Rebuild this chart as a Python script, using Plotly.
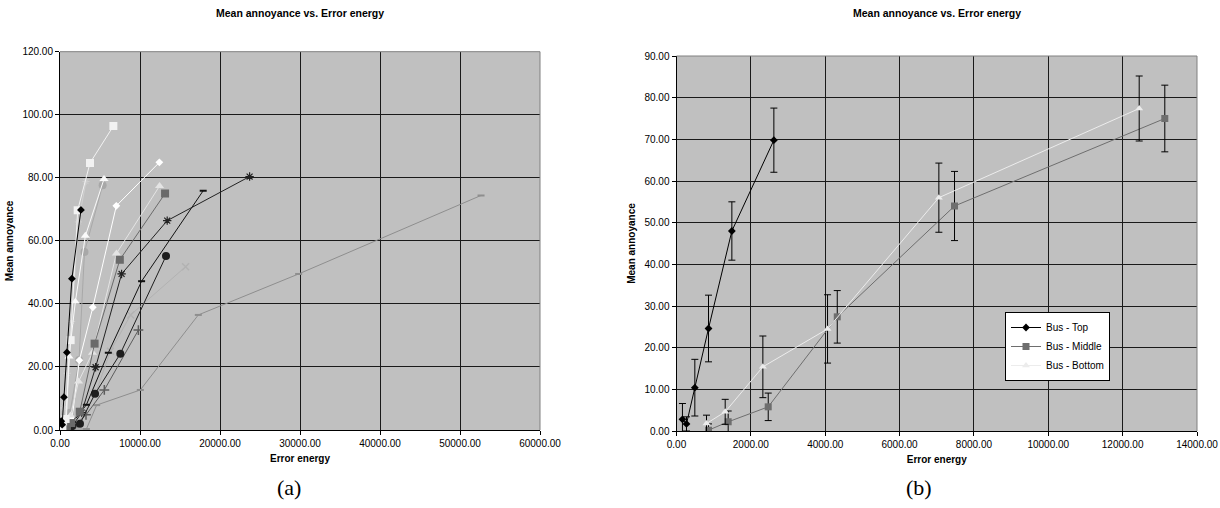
import plotly.graph_objects as go

# ---------------- Chart (b) data: Bus clips with error bars ----------------
top_x = [160, 269, 493, 861, 1489, 2619]
top_y = [2.8, 1.7, 10.4, 24.6, 48.0, 69.8]
top_err = [3.8, 1.7, 6.8, 8.0, 7.0, 7.7]

mid_x = [861, 1390, 2467, 4324, 7478, 13134]
mid_y = [0.2, 2.2, 5.8, 27.4, 54.0, 75.0]
mid_err = [1.5, 2.6, 3.3, 6.3, 8.3, 8.0]

bot_x = [807, 1310, 2323, 4063, 7057, 12445]
bot_y = [1.8, 4.6, 15.4, 24.5, 56.0, 77.4]
bot_err = [2.0, 3.0, 7.4, 8.2, 8.3, 7.8]

# ---------------- Chart (a) data: other clips ----------------
wsq_x = [300, 700, 1330, 2210, 3750, 6670]
wsq_y = [0.3, 3.5, 28.5, 69.7, 84.7, 96.4]

bdash_x = [700, 1600, 3300, 6040, 10200, 17900]
bdash_y = [0.5, 2.5, 8.0, 24.5, 47.2, 75.9]

bstar_x = [600, 1600, 2700, 4450, 7700, 13400, 23700]
bstar_y = [0.5, 1.5, 5.5, 19.9, 49.5, 66.4, 80.4]

bcirc_x = [900, 1500, 2500, 4380, 7540, 13250]
bcirc_y = [0.5, 1.3, 2.0, 11.5, 24.2, 55.2]

gplus_x = [800, 1700, 3250, 5540, 9800]
gplus_y = [0.2, 1.0, 4.8, 12.7, 31.7]

glong_x = [1500, 3300, 4580, 10040, 17290, 29830, 52630]
glong_y = [0.3, 0.3, 7.9, 12.7, 36.5, 49.5, 74.4]

lgx_x = [1000, 2500, 4500, 6300, 8830, 15700]
lgx_y = [0.3, 3.0, 12.0, 25.0, 36.5, 51.8]

lgcirc_x = [300, 650, 1250, 2380, 3060, 5330]
lgcirc_y = [0.5, 1.3, 5.5, 22.2, 56.5, 77.6]

wtri_x = [400, 800, 1125, 1920, 3170, 5500]
wtri_y = [0.8, 3.5, 23.3, 40.7, 61.6, 79.6]

wdia_x = [500, 1000, 1500, 2420, 4100, 7040, 12420]
wdia_y = [0.5, 2.0, 3.5, 22.1, 38.9, 71.1, 84.9]

lstar_x = [200, 500, 900, 1450, 2300, 3250]
lstar_y = [2.0, 7.0, 18.0, 34.4, 66.0, 78.8]

x_ticks_a = [0, 10000, 20000, 30000, 40000, 50000, 60000]
y_ticks_a = [0, 20, 40, 60, 80, 100, 120]
x_ticks_b = [0, 2000, 4000, 6000, 8000, 10000, 12000, 14000]
y_ticks_b = [0, 10, 20, 30, 40, 50, 60, 70, 80, 90]

TITLE = "Mean annoyance vs. Error energy"
FONT = "Liberation Sans"

fig = go.Figure()


def add_a(x, y, color, symbol, size, mline=None, mlw=0):
    marker = dict(symbol=symbol, size=size, color=color)
    if mline is not None:
        marker["line"] = dict(color=mline, width=mlw)
    fig.add_trace(go.Scatter(x=x, y=y, mode="lines+markers", xaxis="x", yaxis="y",
                             line=dict(color=color, width=1), marker=marker,
                             showlegend=False, hoverinfo="skip"))


# chart (a)
add_a(glong_x, glong_y, "#8e8e8e", "line-ew", 5, "#8e8e8e", 2)
add_a(lgx_x, lgx_y, "#b2b2b2", "x-thin", 7, "#b2b2b2", 1.5)
add_a(lstar_x, lstar_y, "#d0d0d0", "asterisk", 6, "#d0d0d0", 1)
add_a(lgcirc_x, lgcirc_y, "#a8a8a8", "circle", 8)
add_a(gplus_x, gplus_y, "#5c5c5c", "cross-thin", 7, "#5c5c5c", 1.5)
add_a(bcirc_x, bcirc_y, "#1e1e1e", "circle", 8)
add_a(bdash_x, bdash_y, "#111111", "line-ew", 5, "#111111", 2)
add_a(bstar_x, bstar_y, "#222222", "asterisk", 7, "#222222", 1.2)
add_a(wdia_x, wdia_y, "#ffffff", "diamond", 6)
add_a(wtri_x, wtri_y, "#fafafa", "triangle-up", 8)
add_a(bot_x, bot_y, "#e4e4e4", "triangle-up", 8)
add_a(mid_x, mid_y, "#6a6a6a", "square", 8)
add_a(wsq_x, wsq_y, "#f2f2f2", "square", 8)
add_a(top_x, top_y, "#000000", "diamond", 6)

# chart (b)
err_style = dict(type="data", thickness=1, width=3.5, color="#000000")
fig.add_trace(go.Scatter(x=top_x, y=top_y, name="Bus - Top", mode="lines+markers",
                         xaxis="x2", yaxis="y2", line=dict(color="#000000", width=1),
                         marker=dict(symbol="diamond", size=6, color="#000000"),
                         error_y=dict(array=top_err, **err_style)))
fig.add_trace(go.Scatter(x=mid_x, y=mid_y, name="Bus - Middle", mode="lines+markers",
                         xaxis="x2", yaxis="y2", line=dict(color="#6e6e6e", width=1),
                         marker=dict(symbol="square", size=7, color="#6e6e6e"),
                         error_y=dict(array=mid_err, **err_style)))
fig.add_trace(go.Scatter(x=bot_x, y=bot_y, name="Bus - Bottom", mode="lines+markers",
                         xaxis="x2", yaxis="y2", line=dict(color="#ececec", width=1),
                         marker=dict(symbol="triangle-up", size=7, color="#ececec"),
                         error_y=dict(array=bot_err, **err_style)))

W, H = 1220, 508
dom_xa = [60 / W, 540 / W]
dom_ya = [(H - 430) / H, (H - 51.7) / H]
dom_xb = [676.5 / W, 1197 / W]
dom_yb = [(H - 431) / H, (H - 56) / H]

axis_common = dict(showline=True, linecolor="#000000", linewidth=1, ticks="outside",
                   ticklen=4, tickcolor="#000000", tickformat=".2f", automargin=False,
                   showgrid=True, gridcolor="#1a1a1a", gridwidth=1, zeroline=False,
                   tickfont=dict(family=FONT, size=10, color="#000000"))
title_font = dict(family=FONT, size=10, color="#000000")

fig.update_layout(
    width=W, height=H, autosize=False,
    margin=dict(l=0, r=0, t=0, b=0),
    paper_bgcolor="#ffffff", plot_bgcolor="#c0c0c0",
    xaxis=dict(domain=dom_xa, range=[0, 60000], tickvals=x_ticks_a, anchor="y",
               title=dict(text="<b>Error energy</b>", font=title_font, standoff=6),
               **axis_common),
    yaxis=dict(domain=dom_ya, range=[0, 120], tickvals=y_ticks_a, anchor="x",
               title=dict(text="<b>Mean annoyance</b>", font=title_font, standoff=6),
               **axis_common),
    xaxis2=dict(domain=dom_xb, range=[0, 14000], tickvals=x_ticks_b, anchor="y2",
                title=dict(text="<b>Error energy</b>", font=title_font, standoff=6),
                **axis_common),
    yaxis2=dict(domain=dom_yb, range=[0, 90], tickvals=y_ticks_b, anchor="x2",
                title=dict(text="<b>Mean annoyance</b>", font=title_font, standoff=6),
                **axis_common),
    legend=dict(x=1005 / W, y=(H - 346.5) / H, xanchor="left", yanchor="middle",
                bgcolor="#ffffff", bordercolor="#000000", borderwidth=1,
                font=dict(family=FONT, size=10, color="#000000"), tracegroupgap=0,
                itemwidth=30),
    showlegend=True,
)

# gray top/right borders of plot areas
for xr, yr in (("x domain", "y domain"), ("x2 domain", "y2 domain")):
    fig.add_shape(type="line", xref=xr, yref=yr, x0=0, x1=1, y0=1, y1=1,
                  line=dict(color="#808080", width=1))
    fig.add_shape(type="line", xref=xr, yref=yr, x0=1, x1=1, y0=0, y1=1,
                  line=dict(color="#808080", width=1))

# titles and captions
for cx in (300, 937):
    fig.add_annotation(text="<b>" + TITLE + "</b>", x=cx / W, y=(H - 13) / H,
                       xref="paper", yref="paper", showarrow=False,
                       xanchor="center", yanchor="middle",
                       font=dict(family=FONT, size=10.5, color="#000000"))
for cx, lab in ((289, "(a)"), (919, "(b)")):
    fig.add_annotation(text=lab, x=cx / W, y=(H - 487) / H, xref="paper", yref="paper",
                       showarrow=False, xanchor="center", yanchor="middle",
                       font=dict(family="Liberation Serif", size=22, color="#000000"))

fig.write_html("out.html", config={"displayModeBar": False},
               post_script="document.body.style.margin='0';document.body.style.overflow='hidden';")
